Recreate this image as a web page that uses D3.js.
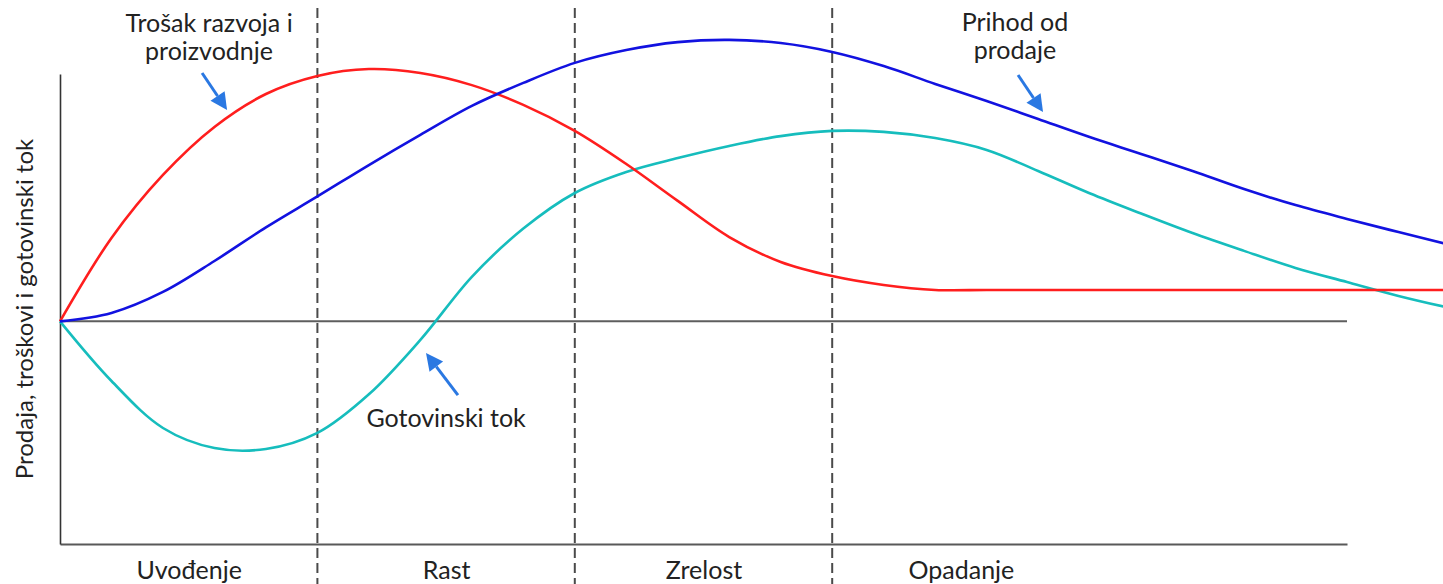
<!DOCTYPE html>
<html>
<head>
<meta charset="utf-8">
<script src="https://cdn.jsdelivr.net/npm/d3@7/dist/d3.min.js"></script>
<style>
  html, body { margin: 0; padding: 0; background: #fff; overflow: hidden; }
  text { font-family: Lato, "Open Sans", sans-serif; fill: #222; }
</style>
</head>
<body>
<svg id="chart" width="1443" height="584"></svg>
<script>
// Product life-cycle phases (one unit of time each)
const phases = ["Uvođenje", "Rast", "Zrelost", "Opadanje"];

// Sampling times along the life cycle
const timeSteps = [0, 0.2, 0.4, 0.6, 0.8, 1.0, 1.2, 1.4, 1.6, 1.8, 2.0, 2.2, 2.4, 2.6,
                   2.8, 3.0, 3.2, 3.4, 3.6, 3.8, 4.0, 4.2, 4.4, 4.6, 4.8, 5.0, 5.2, 5.4];

// Development & production cost
const costValues = [0, 33.7, 59.2, 78.6, 91.9, 99.2, 102.0, 100.4, 95.5, 87.5, 77.0, 63.6,
                    48.7, 34.1, 24.0, 18.3, 14.7, 12.7, 12.7, 12.7, 12.7, 12.7, 12.7, 12.7,
                    12.7, 12.7, 12.7, 12.7];

// Sales revenue
const revenueValues = [0, 3.4, 11.9, 24.4, 38.0, 50.5, 63.2, 75.4, 87.1, 96.4, 104.5, 109.7,
                       112.9, 113.8, 112.5, 108.9, 103.2, 96.0, 89.1, 81.8, 74.5, 67.7, 60.8,
                       53.5, 47.0, 41.4, 36.1, 30.9];

// Cash flow
const cashFlowValues = [0, -24.1, -43.1, -51.2, -51.6, -45.1, -29.5, -7.5, 18.0, 37.5, 51.9,
                        60.4, 66.0, 70.9, 74.9, 77.0, 76.6, 74.1, 69.3, 60.8, 51.8, 43.6, 35.7,
                        28.5, 21.6, 15.9, 10.3, 5.4];

const series = [
  { name: "Gotovinski tok", values: cashFlowValues, color: "#16bdbd" },
  { name: "Trošak razvoja i proizvodnje", values: costValues, color: "#ff1e1e" },
  { name: "Prihod od prodaje", values: revenueValues, color: "#1212e0" }
];

// Callout labels with arrows pointing at the curves (time / value units)
const callouts = [
  { lines: ["Trošak razvoja i", "proizvodnje"], at: [0.579, 117.0], from: [0.552, 100.4], to: [0.649, 85.4] },
  { lines: ["Prihod od", "prodaje"], at: [3.710, 117.4], from: [3.722, 99.6], to: [3.819, 84.6] },
  { lines: ["Gotovinski tok"], at: [1.500, -42.7], from: [1.546, -29.8], to: [1.422, -12.8] }
];

const yTitle = "Prodaja, troškovi i gotovinski tok";

const W = 1443, H = 584;
const svg = d3.select("#chart");

const x = d3.scaleLinear().domain([0, phases.length + 1]).range([60, 1347]);
const y = d3.scaleLinear().domain([-90, 100]).range([544, 74]);

// Bottom axis with phase names centred in each phase
const phaseCenters = phases.map((_, i) => i + 0.5);
const xAxis = svg.append("g")
  .attr("transform", `translate(0,${y(-90)})`)
  .call(d3.axisBottom(x).tickValues(phaseCenters).tickFormat((d, i) => phases[i])
    .tickSize(0).tickSizeOuter(0));
xAxis.select(".domain").attr("stroke", "#595959").attr("stroke-width", 2);
xAxis.selectAll("text")
  .attr("y", 35).attr("dy", null)
  .style("font-family", "Lato, 'Open Sans', sans-serif")
  .style("font-size", "25px").attr("fill", "#222");

// Left axis (no ticks)
const yAxis = svg.append("g")
  .attr("transform", `translate(${x(0)},0)`)
  .call(d3.axisLeft(y).tickValues([]).tickSizeOuter(0));
yAxis.select(".domain").attr("stroke", "#333").attr("stroke-width", 1.6);

// Zero line
svg.append("line")
  .attr("x1", x(0)).attr("x2", x(phases.length + 1))
  .attr("y1", y(0)).attr("y2", y(0))
  .attr("stroke", "#5e5e5e").attr("stroke-width", 2);

// Phase boundaries
svg.append("g").selectAll("line")
  .data(d3.range(1, phases.length))
  .join("line")
  .attr("x1", d => x(d)).attr("x2", d => x(d))
  .attr("y1", 8).attr("y2", H)
  .attr("stroke", "#4a4a4a").attr("stroke-width", 2)
  .attr("stroke-dasharray", "10,5");

// Curves
const line = d3.line()
  .x((d, i) => x(timeSteps[i]))
  .y(d => y(d))
  .curve(d3.curveCatmullRom.alpha(0.5));

svg.append("g").selectAll("path")
  .data(series)
  .join("path")
  .attr("d", d => line(d.values))
  .attr("fill", "none")
  .attr("stroke", d => d.color)
  .attr("stroke-width", 2.6)
  .attr("stroke-linejoin", "round");

// Callouts
const arrowColor = "#2a78e2";
callouts.forEach(c => {
  const g = svg.append("g");
  g.append("text")
    .attr("x", x(c.at[0])).attr("y", y(c.at[1]))
    .attr("text-anchor", "middle")
    .style("font-size", "25px")
    .selectAll("tspan")
    .data(c.lines)
    .join("tspan")
    .attr("x", x(c.at[0]))
    .attr("dy", (d, i) => i === 0 ? 0 : 28)
    .text(d => d);

  const x0 = x(c.from[0]), y0 = y(c.from[1]);
  const x1 = x(c.to[0]), y1 = y(c.to[1]);
  const ang = Math.atan2(y1 - y0, x1 - x0);
  const headLen = 17, headHalf = 8.5;
  const bx = x1 - headLen * Math.cos(ang), by = y1 - headLen * Math.sin(ang);
  g.append("line")
    .attr("x1", x0).attr("y1", y0).attr("x2", bx).attr("y2", by)
    .attr("stroke", arrowColor).attr("stroke-width", 3);
  const nx = -Math.sin(ang), ny = Math.cos(ang);
  g.append("path")
    .attr("d", `M${x1},${y1}L${bx + nx * headHalf},${by + ny * headHalf}L${bx - nx * headHalf},${by - ny * headHalf}Z`)
    .attr("fill", arrowColor);
});

// Y axis title
svg.append("text")
  .attr("transform", `translate(33,${(y(100) + y(-90)) / 2}) rotate(-90)`)
  .attr("text-anchor", "middle")
  .style("font-size", "24px")
  .text(yTitle);
</script>
</body>
</html>
